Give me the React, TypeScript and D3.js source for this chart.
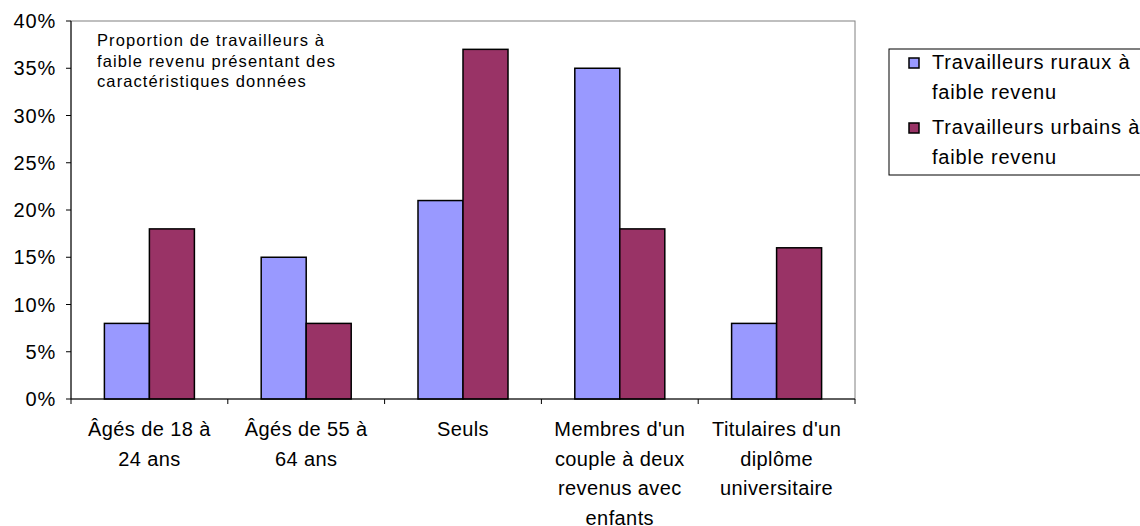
import React from 'react';
import * as d3 from 'd3';

const categories = ["Âgés de 18 à 24 ans", "Âgés de 55 à 64 ans", "Seuls", "Membres d'un couple à deux revenus avec enfants", "Titulaires d'un diplôme universitaire"];
const categoryLines = [
  ["Âgés de 18 à", "24 ans"],
  ["Âgés de 55 à", "64 ans"],
  ["Seuls"],
  ["Membres d'un", "couple à deux", "revenus avec", "enfants"],
  ["Titulaires d'un", "diplôme", "universitaire"]
];
const rural = [8, 15, 21, 35, 8];
const urban = [18, 8, 37, 18, 16];
const seriesNames = ["Travailleurs ruraux à faible revenu", "Travailleurs urbains à faible revenu"];
const legendLines = [["Travailleurs ruraux à", "faible revenu"], ["Travailleurs urbains à", "faible revenu"]];
const yTicks = [0, 5, 10, 15, 20, 25, 30, 35, 40];
const noteLines = ["Proportion de travailleurs à", "faible revenu présentant des", "caractéristiques  données"];

const colors = ["#9999FF", "#993366"];

export default function App() {
  const width = 1140, height = 526;
  const margin = {top: 21, right: 285, bottom: 127, left: 71};
  const w = width - margin.left - margin.right,
    h = height - margin.top - margin.bottom;

  const x = d3.scaleBand().domain(categories).range([0, w]).paddingInner(0).paddingOuter(0);
  const bw = x.bandwidth();
  const inner = d3.scaleBand().domain(seriesNames).range([bw * 0.213, bw * 0.787]);
  const y = d3.scaleLinear().domain([0, 40]).range([h, 0]);

  const series = [rural, urban];
  const font = "'Liberation Sans', Arial, sans-serif";

  return (
    <svg width={width} height={height} style={{position: 'absolute', left: 0, top: 0, fontFamily: font}}>
      <g transform={`translate(${margin.left},${margin.top})`}>
        <rect x={0} y={0} width={w} height={h} fill="none" stroke="#808080" strokeWidth={1} />
        {series.map((vals, si) => vals.map((v, i) => (
          <rect key={si + '-' + i}
            x={x(categories[i])! + inner(seriesNames[si])!}
            y={y(v)}
            width={inner.bandwidth()}
            height={h - y(v)}
            fill={colors[si]} stroke="#000" strokeWidth={1.5} />
        )))}
        <line x1={0} x2={0} y1={0} y2={h} stroke="#000" />
        <line x1={0} x2={w} y1={h} y2={h} stroke="#000" />
        {yTicks.map(t => (
          <g key={t} transform={`translate(0,${y(t)})`}>
            <line x1={-5} x2={0} stroke="#000" />
            <text x={-15} dy="0.35em" textAnchor="end" fontSize={20} letterSpacing={0.8} fill="#000">{t}%</text>
          </g>
        ))}
        {categories.map((c, i) => (
          <line key={c} x1={x(c)!} x2={x(c)!} y1={h} y2={h + 5} stroke="#000" />
        ))}
        <line x1={w} x2={w} y1={h} y2={h + 5} stroke="#000" />
        {categories.map((c, i) => (
          <text key={c} x={x(c)! + bw / 2} y={h + 37} textAnchor="middle" fontSize={20} letterSpacing={0.4} fill="#000">
            {categoryLines[i].map((l, li) => (
              <tspan key={li} x={x(c)! + bw / 2} dy={li === 0 ? 0 : 29.5}>{l}</tspan>
            ))}
          </text>
        ))}
        <text x={26} y={25} fontSize={16.5} letterSpacing={1.1} fill="#000">
          {noteLines.map((l, li) => (
            <tspan key={li} x={26} dy={li === 0 ? 0 : 20.5}>{l}</tspan>
          ))}
        </text>
      </g>
      <g transform="translate(889,49)">
        <rect x={0} y={0} width={260} height={126} fill="#fff" stroke="#000" strokeWidth={1} />
        {legendLines.map((lines, i) => (
          <g key={i} transform={`translate(0,${i * 65})`}>
            <rect x={20} y={9} width={10} height={10} fill={colors[i]} stroke="#000" strokeWidth={1.5} />
            <text x={43} y={20} fontSize={20} letterSpacing={0.8} fill="#000">
              {lines.map((l, li) => (
                <tspan key={li} x={43} dy={li === 0 ? 0 : 30}>{l}</tspan>
              ))}
            </text>
          </g>
        ))}
      </g>
    </svg>
  );
}
